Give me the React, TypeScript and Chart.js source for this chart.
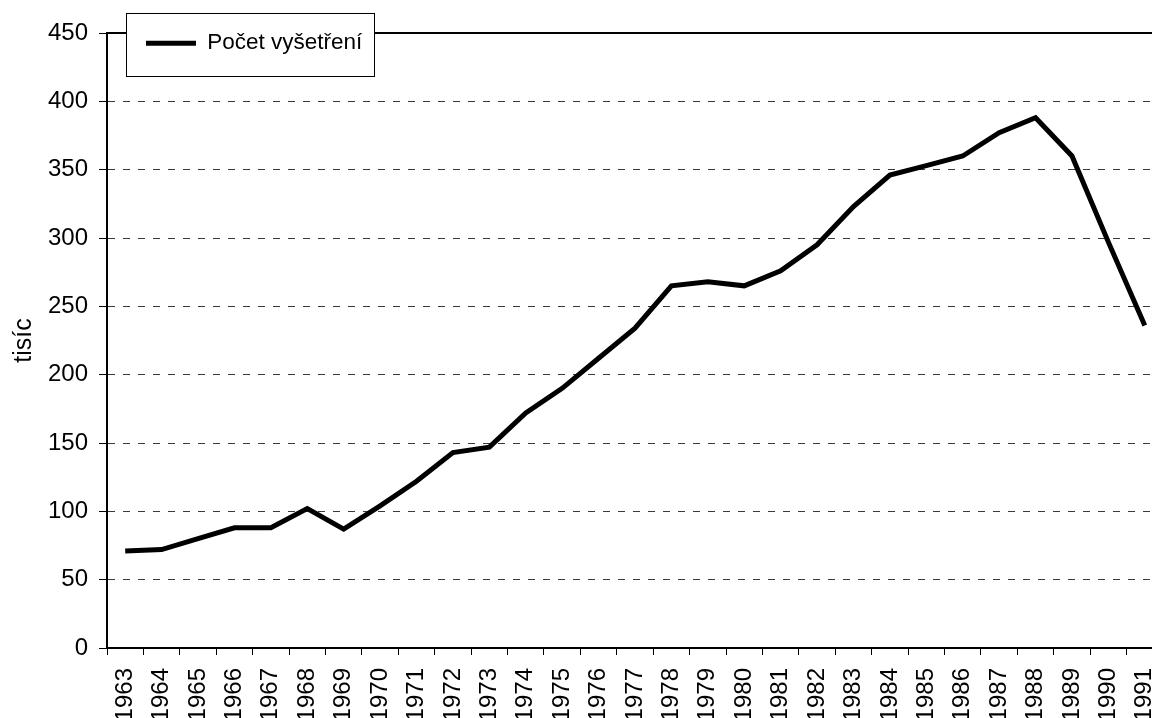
import React, { useEffect, useRef } from "react";
import { Chart, registerables } from "chart.js";

Chart.register(...registerables);

const years: string[] = [
  "1963", "1964", "1965", "1966", "1967", "1968", "1969", "1970", "1971", "1972",
  "1973", "1974", "1975", "1976", "1977", "1978", "1979", "1980", "1981", "1982",
  "1983", "1984", "1985", "1986", "1987", "1988", "1989", "1990", "1991",
];

const vysetreni: number[] = [
  71, 72, 80, 88, 88, 102, 87, 104, 122, 143,
  147, 172, 190, 212, 234, 265, 268, 265, 276, 295,
  323, 346, 353, 360, 377, 388, 360, 297, 236,
];

const seriesLabel = "Počet vyšetření";
const yTitle = "tisíc";
const FONT = "'Liberation Sans', Arial, sans-serif";

const framePlugin = {
  id: "framePlugin",
  afterLayout(chart: any) {
    const ca = chart.chartArea;
    const lg = chart.legend;
    if (!lg) return;
    const fLeft = ca.left + 19;
    const fTop = ca.top - 20;
    lg.left = fLeft;
    lg.top = fTop - 1;
    lg.right = fLeft + 248;
    lg.bottom = fTop + 63;
    lg.width = 248;
    lg.height = 64;
    chart.$frame = { left: fLeft, top: fTop, width: 248, height: 63 };
  },
  beforeDatasetsDraw(chart: any) {
    const { ctx, chartArea: ca } = chart;
    ctx.save();
    ctx.strokeStyle = "#000";
    ctx.lineWidth = 2;
    ctx.beginPath();
    ctx.moveTo(ca.left, ca.top);
    ctx.lineTo(ca.right, ca.top);
    ctx.stroke();
    ctx.restore();
  },
  afterDraw(chart: any) {
    const f = chart.$frame;
    if (!f) return;
    const { ctx } = chart;
    ctx.save();
    ctx.fillStyle = "#fff";
    ctx.fillRect(f.left, f.top, f.width, f.height);
    ctx.strokeStyle = "#000";
    ctx.lineWidth = 1;
    ctx.strokeRect(f.left + 0.5, f.top + 0.5, f.width, f.height);
    ctx.restore();
    chart.legend.draw();
  },
};

export default function App() {
  const canvasRef = useRef<HTMLCanvasElement | null>(null);

  useEffect(() => {
    if (!canvasRef.current) return;
    const chart = new Chart(canvasRef.current, {
      type: "line",
      data: {
        labels: years,
        datasets: [
          {
            label: seriesLabel,
            data: vysetreni,
            borderColor: "#000",
            backgroundColor: "#000",
            borderWidth: 5,
            pointRadius: 0,
            pointHoverRadius: 0,
            tension: 0,
            borderJoinStyle: "miter",
            fill: false,
          },
        ],
      },
      options: {
        animation: false,
        responsive: true,
        maintainAspectRatio: false,
        layout: { padding: { left: 0, top: 33, right: 0, bottom: 0 } },
        plugins: {
          tooltip: { enabled: false },
          legend: {
            display: true,
            position: "chartArea",
            align: "start",
            labels: {
              boxWidth: 50,
              boxHeight: 5,
              padding: 20,
              color: "#000",
              font: { family: FONT, size: 22.5 },
              generateLabels: (c: any) =>
                c.data.datasets.map((ds: any, i: number) => ({
                  text: ds.label,
                  fillStyle: "#000",
                  strokeStyle: "#000",
                  lineWidth: 0,
                  hidden: false,
                  datasetIndex: i,
                  fontColor: "#000",
                })),
            },
          },
        },
        scales: {
          x: {
            type: "category",
            offset: true,
            grid: {
              offset: true,
              display: true,
              drawOnChartArea: false,
              drawTicks: true,
              tickLength: 7,
              tickColor: "#000",
              tickWidth: 1,
            },
            border: { display: true, color: "#000", width: 2 },
            ticks: {
              color: "#000",
              font: { family: FONT, size: 24 },
              minRotation: 90,
              maxRotation: 90,
              padding: 13,
              autoSkip: false,
            },
            afterFit: (scale: any) => {
              scale.height = 70;
              scale.paddingLeft = 0;
              scale.paddingRight = 0;
            },
          },
          y: {
            min: 0,
            max: 450,
            grid: {
              color: "#3a3a3a",
              lineWidth: 1,
              drawTicks: true,
              tickLength: 8,
              tickColor: "#000",
              tickWidth: 1,
              tickBorderDash: [],
            },
            border: { display: true, color: "#000", width: 2, dash: [7, 8] },
            ticks: {
              stepSize: 50,
              color: "#000",
              font: { family: FONT, size: 24 },
              padding: 11,
            },
            title: {
              display: true,
              text: yTitle,
              color: "#000",
              font: { family: FONT, size: 25 },
              padding: { top: 9, bottom: 0 },
            },
            afterFit: (scale: any) => {
              scale.width = 107;
            },
          },
        },
      },
      plugins: [framePlugin],
    } as any);
    return () => chart.destroy();
  }, []);

  return (
    <div
      style={{
        position: "fixed",
        left: 0,
        top: 0,
        width: 1152,
        height: 718,
        overflow: "hidden",
        background: "#fff",
      }}
    >
      <div style={{ width: 1163, height: 718, position: "relative" }}>
        <canvas ref={canvasRef} />
      </div>
    </div>
  );
}
